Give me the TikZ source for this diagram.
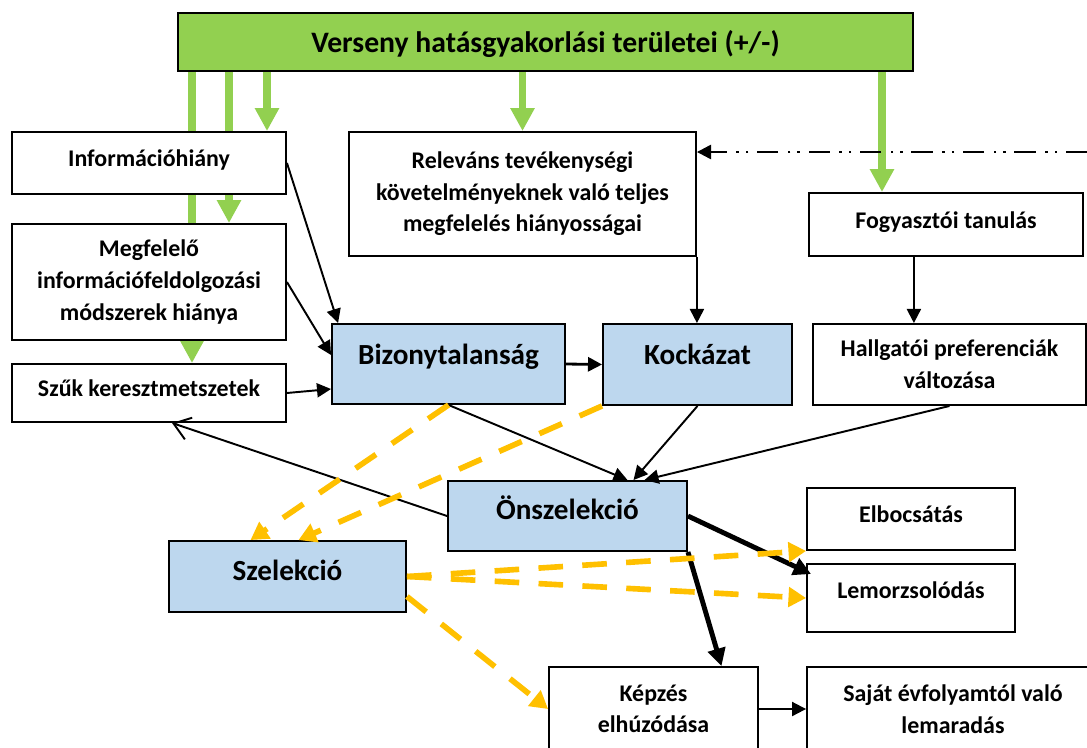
\documentclass[tikz,border=0pt]{standalone}
\usepackage{fontspec}
\setmainfont{Carlito}
\usetikzlibrary{arrows.meta,backgrounds}
\definecolor{leafgreen}{HTML}{92D050}
\definecolor{paleblue}{HTML}{BDD7EE}
\definecolor{amber}{HTML}{FFC000}
\tikzset{
 box/.style={draw, line width=1.1pt, fill=white, inner sep=0pt, align=center,
   font=\bfseries\fontsize{13.6}{18}\selectfont},
 bluebox/.style={box, fill=paleblue, font=\bfseries\fontsize{16.6}{20}\selectfont},
 oneline/.style={text height=8pt, text depth=4pt},
 midline/.style={text height=6pt, text depth=6pt},
 feed/.style={draw=leafgreen, line width=4.5pt, -{Triangle[length=13pt,width=13pt]}},
 link/.style={line width=1.1pt, -{Triangle[length=8pt,width=8pt]}},
 heavy/.style={line width=2.8pt, -{Triangle[length=10pt,width=10pt]}},
 hint/.style={draw=amber, line width=3.2pt, dash pattern=on 14pt off 11pt, -{Triangle[length=10pt,width=11pt]}},
}
\begin{document}
\begin{tikzpicture}[x=0.02cm, y=-0.02cm]
 \useasboundingbox (0,0) rectangle (1087,747);
 \clip (0,0) rectangle (1087,747);

 \node[box, fill=leafgreen, minimum width=14.7cm, minimum height=1.16cm, font=\bfseries\fontsize{16.9}{20}\selectfont, text height=13pt, text depth=1.6pt] (title) at (545.5,42) {Verseny hatásgyakorlási területei (+/-)};
 \node[box, minimum width=5.48cm, minimum height=1.24cm, oneline] (info) at (149,163) {Információhiány};
 \node[box, minimum width=5.48cm, minimum height=2.32cm] (megf) at (149,282) {Megfelelő\\információfeldolgozási\\módszerek hiánya};
 \node[box, minimum width=5.48cm, minimum height=1.16cm, oneline] (szuk) at (149,393) {Szűk keresztmetszetek};
 \node[box, minimum width=6.94cm, minimum height=2.48cm] (relev) at (522.5,194) {Releváns tevékenységi\\követelményeknek való teljes\\megfelelés hiányosságai};
 \node[box, minimum width=5.48cm, minimum height=1.26cm, oneline] (fogy) at (946,224.5) {Fogyasztói tanulás};
 \node[bluebox, minimum width=4.66cm, minimum height=1.6cm, midline] (biz) at (448.5,364) {Bizonytalanság};
 \node[bluebox, minimum width=3.78cm, minimum height=1.62cm, midline] (kock) at (697.5,364.5) {Kockázat};
 \node[box, minimum width=5.46cm, minimum height=1.62cm] (hallg) at (949.5,364.5) {Hallgatói preferenciák\\változása};
 \node[bluebox, minimum width=4.78cm, minimum height=1.4cm, oneline] (onsz) at (567.5,516) {Önszelekció};
 \node[bluebox, minimum width=4.74cm, minimum height=1.42cm, oneline] (szel) at (287.5,576.5) {Szelekció};
 \node[box, minimum width=4.16cm, minimum height=1.24cm, oneline] (elb) at (911,519) {Elbocsátás};
 \node[box, minimum width=4.16cm, minimum height=1.36cm, midline] (lemor) at (911,598) {Lemorzsolódás};
 \node[box, minimum width=4.18cm, minimum height=1.68cm] (kepz) at (653.5,709) {Képzés\\elhúzódása};
 \node[box, minimum width=5.84cm, minimum height=1.68cm] (sajat) at (953,709) {Saját évfolyamtól való\\lemaradás};

 \begin{scope}[on background layer]
  \draw[feed] (title.south -| 192,0) -- (szuk.north -| 192,0);
  \draw[feed] (title.south -| 229,0) -- (megf.north -| 229,0);
  \draw[feed] (title.south -| 267,0) -- (info.north -| 267,0);
  \draw[feed] (title.south -| relev.north) -- (relev.north);
  \draw[feed] (title.south -| 882,0) -- (fogy.north -| 882,0);
 \end{scope}

 \draw[link] (info.east) -- ([shift={(7,0)}]biz.north west);
 \draw[link] (megf.east) -- ([shift={(0,-9)}]biz.west);
 \draw[link] (szuk.east) -- ([shift={(0,25)}]biz.west);
 \draw[link, line width=1.6pt] (biz.east) -- (kock.west);
 \draw[link] (relev.south east) -- (relev.south east |- kock.north);
 \coordinate (rim) at (1087,152);
 \draw[link, line width=1.3pt, dash pattern=on 12pt off 5pt on 1.4pt off 4pt on 1.4pt off 5.5pt] (rim) -- (rim -| relev.east);
 \draw[link] (fogy.south -| title.east) -- (hallg.north -| title.east);
 \draw[link] (biz.south) -- ([shift={(60,0)}]onsz.north);
 \draw[link] (kock.south) -- ([shift={(66,0)}]onsz.north);
 \draw[link] (hallg.south) -- ([shift={(77,0)}]onsz.north);
 \draw[line width=1.1pt, -{Straight Barb[length=9pt,width=13pt]}] (onsz.west) -- ([shift={(23,0)}]szuk.south);
 \draw[heavy] (onsz.east) -- ([shift={(5,11)}]lemor.north west);
 \draw[heavy] (onsz.south east) -- ([shift={(68,0)}]kepz.north);
 \draw[link] (kepz.east) -- (sajat.west);

 \draw[hint] (biz.south) -- ([shift={(-37,0)}]szel.north);
 \draw[hint] (kock.south west) -- ([shift={(11,0)}]szel.north);
 \draw[hint] (szel.east) -- (elb.south west);
 \draw[hint] (szel.east) -- (lemor.west);
 \draw[hint] ([shift={(0,20)}]szel.east) -- (kepz.west);
\end{tikzpicture}
\end{document}
